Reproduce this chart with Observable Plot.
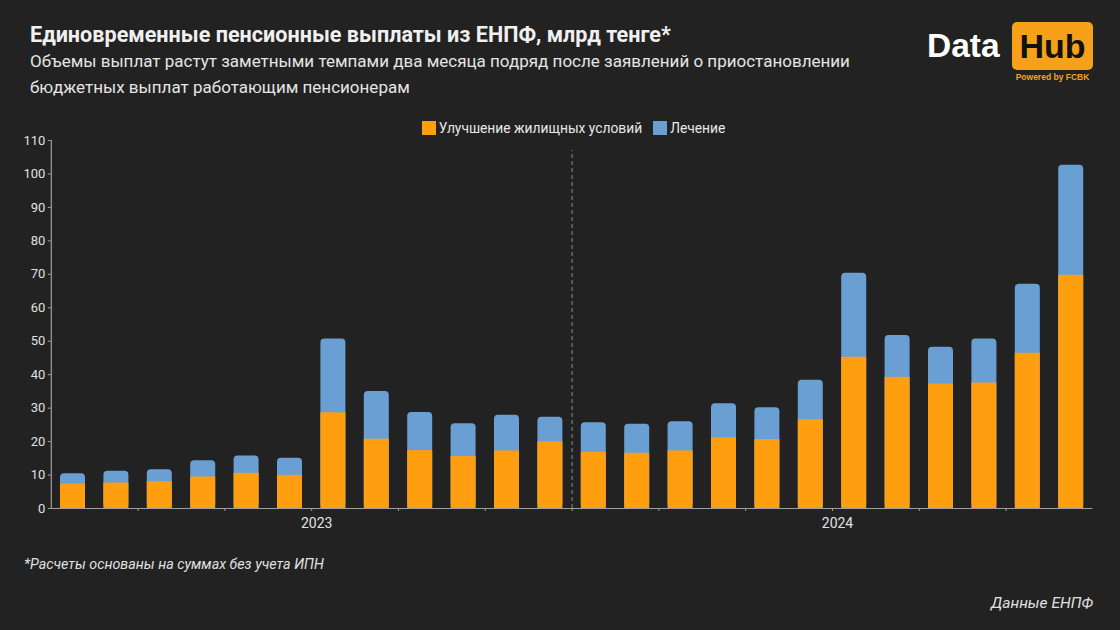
<!DOCTYPE html>
<html>
<head>
<meta charset="utf-8">
<script src="https://cdn.jsdelivr.net/npm/d3@7"></script>
<script src="https://cdn.jsdelivr.net/npm/@observablehq/plot@0.6"></script>
<style>
  html, body { margin: 0; padding: 0; background: #222222; }
  #root { position: relative; width: 1120px; height: 630px; background: #222222; font-family: Roboto, "Noto Sans", sans-serif; color: #e8e8e8; overflow: hidden; }
  .title { position: absolute; left: 30px; top: 22px; font-size: 21.6px; font-weight: 700; line-height: 26px; color: #f0f0f0; }
  .subtitle { position: absolute; left: 30px; top: 48px; font-size: 17px; line-height: 26px; color: #e4e4e4; }
  .foot { position: absolute; left: 24px; top: 556px; font-size: 14.3px; font-style: italic; color: #e0e0e0; }
  .source { position: absolute; right: 27px; top: 594px; font-size: 15.5px; font-style: italic; color: #e0e0e0; }
  #chart { position: absolute; left: 0; top: 100px; }
  #legend { position: absolute; left: 0; top: 117px; width: 1158px; display: flex; justify-content: center; }
  .lg-swatches { font-family: Roboto, sans-serif; font-size: 13.8px; color: #e8e8e8; margin: 0; min-height: 22px !important; }
  .lg-swatch { margin-right: 11px !important; }
  .lg-swatch > svg { margin-right: 3px !important; }
  .logo { position: absolute; left: 926px; top: 21px; width: 170px; height: 64px; }
  .logo .data { position: absolute; left: 1px; top: 6px; font-family: "Liberation Sans", Arial, sans-serif; font-weight: 700; font-size: 33.5px; color: #ffffff; }
  .logo .hubbox { position: absolute; left: 86px; top: 1px; width: 81px; height: 48px; background: #f7a11a; border-radius: 5px; }
  .logo .hub { position: absolute; left: 0; top: 5px; width: 81px; text-align: center; font-family: "Liberation Sans", Arial, sans-serif; font-weight: 700; font-size: 34px; color: #111; }
  .logo .pw { position: absolute; left: 86px; top: 51px; width: 81px; text-align: center; font-family: "Liberation Sans", Arial, sans-serif; font-weight: 700; font-size: 8.5px; color: #f7a11a; }
</style>
</head>
<body>
<div id="root">
  <div class="title">Единовременные пенсионные выплаты из ЕНПФ, млрд тенге*</div>
  <div class="subtitle">Объемы выплат растут заметными темпами два месяца подряд после заявлений о приостановлении<br>бюджетных выплат работающим пенсионерам</div>
  <div class="logo">
    <div class="data">Data</div>
    <div class="hubbox"><div class="hub">Hub</div></div>
    <div class="pw">Powered by FCBK</div>
  </div>
  <div id="legend"></div>
  <div id="chart"></div>
  <div class="foot">*Расчеты основаны на суммах без учета ИПН</div>
  <div class="source">Данные ЕНПФ</div>
</div>
<script>
// Months (categories)
const months = [
  "2023-01","2023-02","2023-03","2023-04","2023-05","2023-06",
  "2023-07","2023-08","2023-09","2023-10","2023-11","2023-12",
  "2024-01","2024-02","2024-03","2024-04","2024-05","2024-06",
  "2024-07","2024-08","2024-09","2024-10","2024-11","2024-12"
];
// Series names and colours
const seriesNames = ["Улучшение жилищных условий", "Лечение"];
const seriesColors = ["#ff9f10", "#6a9fd3"];
// Values, billion tenge
const housing = [7.3, 7.6, 8.0, 9.4, 10.5, 9.9, 28.6, 20.7, 17.3, 15.5, 17.2, 19.9,
                 16.8, 16.5, 17.2, 21.1, 20.6, 26.5, 45.2, 39.2, 37.2, 37.5, 46.4, 69.7];
const medical = [3.1, 3.5, 3.6, 4.9, 5.2, 5.1, 22.1, 14.3, 11.4, 9.8, 10.7, 7.4,
                 8.8, 8.7, 8.7, 10.2, 9.5, 11.8, 25.1, 12.5, 11.0, 13.2, 20.6, 32.9];
// Axis labels
const yearLabels = ["2023", "2024"];
const yTicks = d3.range(0, 111, 10);

const totalRows = months.map((m, i) => ({i, month: m, series: seriesNames[1], value: housing[i] + medical[i]}));
const housingRows = months.map((m, i) => ({i, month: m, series: seriesNames[0], value: housing[i]}));
const yearBoundary = months.findIndex(m => m.startsWith("2024"));
const yearCenters = yearLabels.map((y) => {
  const idx = months.map((m, i) => m.startsWith(y) ? i : -1).filter(i => i >= 0);
  return (idx[0] + idx[idx.length - 1] + 1) / 2;
});
const minorTicks = d3.range(2, months.length, 2);

const inset = 9.2;
const plot = Plot.plot({
  width: 1120,
  height: 450,
  marginLeft: 50.8,
  marginRight: 27.6,
  marginTop: 40,
  marginBottom: 42,
  style: {background: "transparent", color: "#e0e0e0", fontFamily: "Roboto, sans-serif", fontSize: "13px"},
  x: {type: "linear", domain: [0, months.length]},
  y: {domain: [0, 110]},
  color: {domain: seriesNames, range: seriesColors},
  marks: [
    Plot.rectY(totalRows, {x1: "i", x2: d => d.i + 1, y1: 0, y2: "value", fill: "series", insetLeft: inset, insetRight: inset, rx: 4}),
    Plot.rectY(housingRows, {x1: "i", x2: d => d.i + 1, y1: 0, y2: "value", fill: "series", insetLeft: inset, insetRight: inset}),
    Plot.ruleX([yearBoundary], {y1: 0, y2: 107, stroke: "#8a8a8a", strokeWidth: 1, strokeDasharray: "4,3"}),
    Plot.ruleY([0], {stroke: "#a0a0a0", strokeWidth: 1.2}),
    Plot.ruleX([0], {y1: 0, y2: 110, stroke: "#a0a0a0", strokeWidth: 1.2}),
    Plot.axisY({ticks: yTicks, tickSize: 3, tickPadding: 3, stroke: "#a0a0a0", fill: "#e0e0e0", fontSize: 13, label: null}),
    Plot.axisX({ticks: minorTicks, tickSize: 3, tickFormat: () => "", stroke: "#a0a0a0", label: null}),
    Plot.axisX({ticks: yearCenters, tickSize: 0, tickPadding: 10, dx: 5, tickFormat: (d, k) => yearLabels[k], fill: "#e0e0e0", fontSize: 14, label: null})
  ]
});
document.getElementById("chart").appendChild(plot);
const legend = plot.legend("color", {className: "lg", swatchSize: 14});
document.getElementById("legend").appendChild(legend);
</script>
</body>
</html>
